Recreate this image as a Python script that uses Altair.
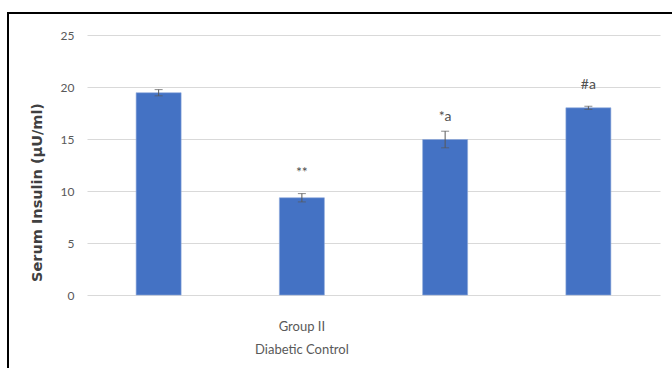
import altair as alt
import pandas as pd

groups = ["Group I", "Group II", "Group III", "Group IV"]
means = [19.45, 9.35, 14.95, 18.0]
errors = [0.3, 0.4, 0.8, 0.15]
marks = ["", "**", "*a", "#a"]
mark_y = [0.0, 11.7, 17.1, 20.2]
y_ticks = [0, 5, 10, 15, 20, 25]

df = pd.DataFrame({"group": groups, "mean": means, "err": errors,
                   "mark": marks, "mark_y": mark_y})
df["lo"] = df["mean"] - df["err"]
df["hi"] = df["mean"] + df["err"]

FONT = "Lato"
yscale = alt.Scale(domain=[0, 25], nice=False, zero=True)

x_enc = alt.X("group:N", sort=groups,
              scale=alt.Scale(paddingInner=0, paddingOuter=0),
              axis=alt.Axis(title=None, labelAngle=0, ticks=False, domain=False,
                            labelExpr="datum.value == 'Group II' ? ['Group II', 'Diabetic Control'] : ''",
                            labelFontSize=13, labelColor="#595959", labelPadding=25,
                            labelLineHeight=23, labelFont=FONT))

base = alt.Chart(df)

bars = base.mark_bar(size=45, color="#4472c4", stroke="#8eaadb", strokeWidth=0.6).encode(
    x=x_enc,
    y=alt.Y("mean:Q", scale=yscale,
            axis=alt.Axis(values=y_ticks, grid=True, gridColor="#d9d9d9", gridWidth=1,
                          domain=False, ticks=False, labelPadding=13,
                          labelFontSize=12, labelColor="#595959", labelFont=FONT,
                          title="Serum Insulin  (µU/ml)", titleFontWeight="bold",
                          titleFontSize=14.5, titleColor="#404040", titleFont="DejaVu Sans",
                          titleX=-43, titleY=157)),
)

err_rule = base.mark_rule(color="#595959", strokeWidth=1).encode(
    x=alt.X("group:N", sort=groups), y=alt.Y("lo:Q", scale=yscale), y2="hi:Q")
cap_lo = base.mark_tick(color="#595959", size=8, thickness=1, orient="horizontal").encode(
    x=alt.X("group:N", sort=groups), y=alt.Y("lo:Q", scale=yscale))
cap_hi = base.mark_tick(color="#595959", size=8, thickness=1, orient="horizontal").encode(
    x=alt.X("group:N", sort=groups), y=alt.Y("hi:Q", scale=yscale))

labels = base.mark_text(fontSize=14, color="#505050", font=FONT).encode(
    x=alt.X("group:N", sort=groups), y=alt.Y("mark_y:Q", scale=yscale), text="mark:N")

top_border = alt.Chart(pd.DataFrame({"a": [0]})).mark_rule(color="black", strokeWidth=2).encode(
    x=alt.value(-79), x2=alt.value(590), y=alt.value(-22))
left_border = alt.Chart(pd.DataFrame({"a": [0]})).mark_rule(color="black", strokeWidth=2).encode(
    x=alt.value(-79), y=alt.value(-23), y2=alt.value(340))

chart = alt.layer(bars, err_rule, cap_lo, cap_hi, labels, top_border, left_border).properties(
    width=573, height=260,
    autosize=alt.AutoSizeParams(type="none"),
    padding={"left": 87, "top": 35, "right": 12, "bottom": 73},
    background="white",
).configure_view(stroke=None)

chart.save("out.html", embed_options={"renderer": "svg", "actions": False})
